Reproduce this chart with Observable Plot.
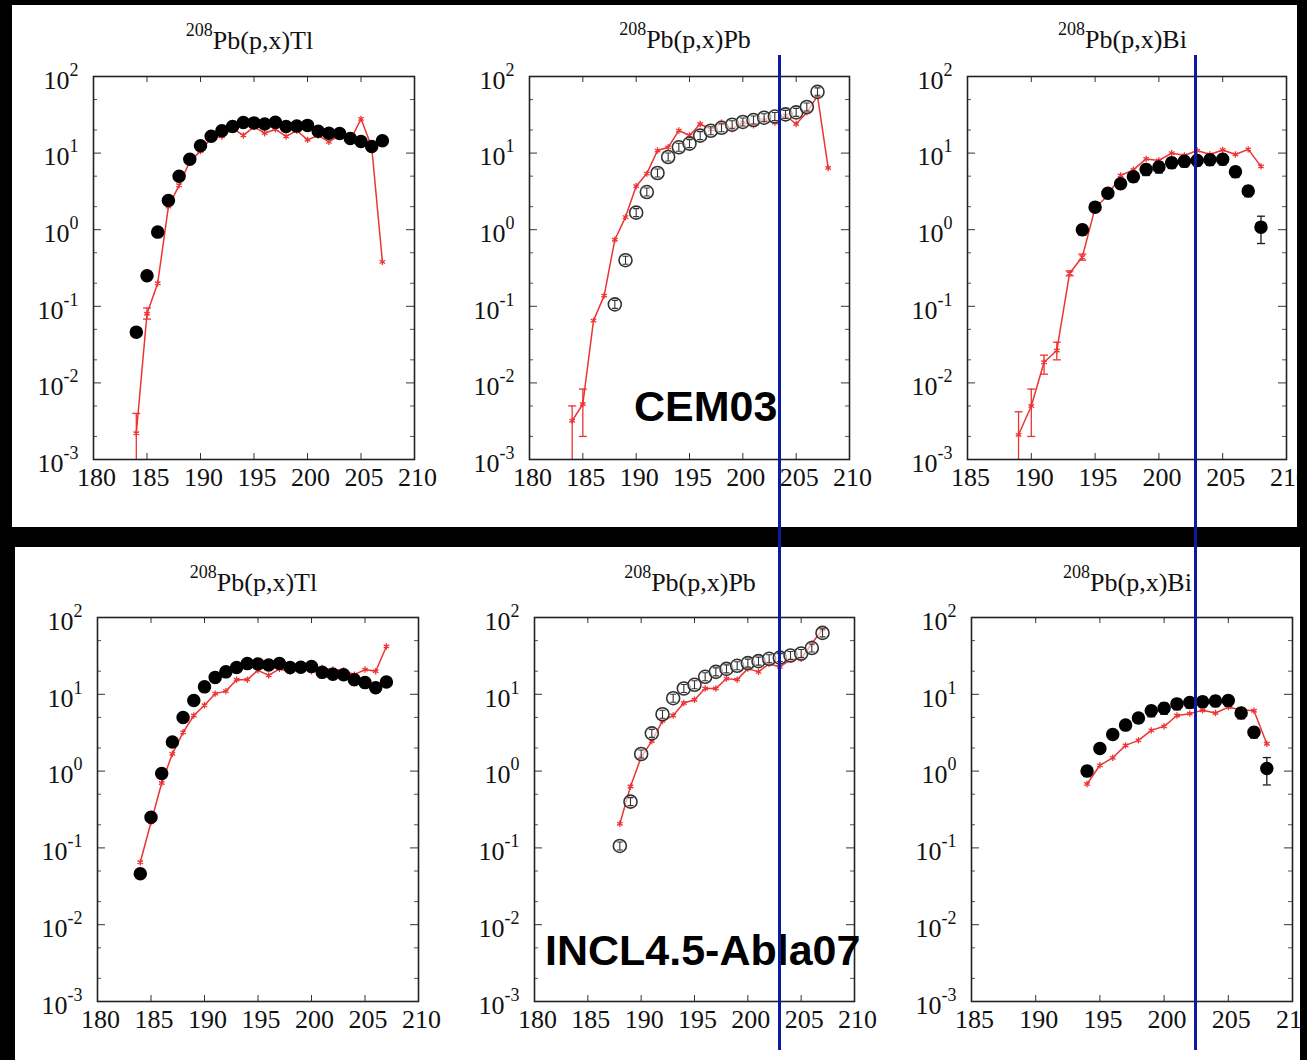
<!DOCTYPE html>
<html><head><meta charset="utf-8">
<script src="https://cdn.jsdelivr.net/npm/d3@7"></script>
<script src="https://cdn.jsdelivr.net/npm/@observablehq/plot@0.6"></script>
<style>
html,body{margin:0;padding:0;background:#000;}
body{width:1307px;height:1060px;overflow:hidden;}
#root{position:relative;width:1307px;height:1060px;background:#000;overflow:hidden;}
.region{position:absolute;background:#fff;overflow:hidden;}
.title{position:absolute;font-family:'Liberation Serif','Times New Roman',serif;font-size:26px;line-height:26px;text-align:center;color:#111;white-space:nowrap;}
.title sup{font-size:18px;position:relative;top:-13px;vertical-align:baseline;line-height:0;}
.model{position:absolute;font-family:'Liberation Sans',Arial,sans-serif;font-weight:bold;font-size:43px;line-height:43px;color:#000;white-space:nowrap;}
.vline{position:absolute;width:3px;background:#0b1ba4;}
#root svg text, #root svg tspan{font-family:'Liberation Serif','Times New Roman',serif !important;}
</style></head>
<body><div id="root"></div>
<script>
// ---------- data ----------
const Y_MAJOR = [1e-3, 1e-2, 1e-1, 1, 10, 100];
const Y_MINOR = [0.002, 0.005, 0.02, 0.05, 0.2, 0.5, 2, 5, 20, 50];
const X_TICKS_180 = [180, 185, 190, 195, 200, 205, 210];
const X_TICKS_185 = [185, 190, 195, 200, 205, 210];

// Tl
const A_TL = [184,185,186,187,188,189,190,191,192,193,194,195,196,197,198,199,200,201,202,203,204,205,206,207];
const TL_EXP = [0.046,0.25,0.93,2.4,5.0,8.3,12.5,16.6,19.6,22.3,25.1,24.8,24,25.2,22.3,22.5,23,19.3,18.2,18,15.5,14.2,12.2,14.5];
const TL_CEM = [0.0022,0.08,0.2,2.0,3.8,7.8,10.6,15.7,16.5,21,17,22,18.2,20.5,16.5,19.7,14.9,17,14,17,14.6,28,12,0.38];
const TL_INCL = [0.065,0.216,0.70,1.68,3.2,5.3,7.2,10.2,11,15.5,15.5,20.5,17.6,21.5,19.6,22.7,20,22,21,20.5,18,21,20,42];
const TL_CEM_ERR_A = [184, 185];
const TL_CEM_ERR_LO = [0.0005, 0.068];
const TL_CEM_ERR_HI = [0.004, 0.095];

// Pb
const A_PB_EXP = [188,189,190,191,192,193,194,195,196,197,198,199,200,201,202,203,204,205,206,207];
const PB_EXP = [0.106,0.40,1.67,3.1,5.5,8.9,11.9,13.3,16.9,19.6,21.4,23.5,25.5,27,29,30,32,34,40,63];
const A_PB_CEM = [184,185,186,187,188,189,190,191,192,193,194,195,196,197,198,199,200,201,202,203,204,205,206,207,208];
const PB_CEM = [0.0032,0.0053,0.065,0.138,0.74,1.46,3.7,5.4,10.8,11.9,19.7,17,24,20.5,25,20.5,25,23,27,25,31,24,34,56,6.4];
const PB_CEM_ERR_A = [184, 185];
const PB_CEM_ERR_LO = [0.0005, 0.002];
const PB_CEM_ERR_HI = [0.005, 0.0083];
const A_PB_INCL = [188,189,190,191,192,193,194,195,196,197,198,199,200,201,202,203,204,205,206,207];
const PB_INCL = [0.206,0.63,1.52,2.46,4.5,5.3,7.7,8.5,11.9,11.9,16,15.5,21.6,19.6,25,22.7,28.3,29,45.8,70];

// Bi
const A_BI_EXP = [194,195,196,197,198,199,200,201,202,203,204,205,206,207,208];
const BI_EXP = [1.0,1.97,3.0,3.97,4.9,6.1,6.6,7.5,7.8,8.0,8.2,8.3,5.7,3.2,1.08];
const BI_EXP_LO = [0.85,1.75,2.65,3.45,4.2,5.1,5.5,6.3,6.6,6.8,6.9,7.0,4.8,2.7,0.66];
const BI_EXP_HI = [1.15,2.2,3.35,4.5,5.6,7.1,7.7,8.7,9.0,9.3,9.5,9.6,6.6,3.7,1.5];
const A_BI_CEM = [189,190,191,192,193,194,195,196,197,198,199,200,201,202,203,204,205,206,207,208];
const BI_CEM = [0.0021,0.005,0.0186,0.0265,0.27,0.44,1.93,2.8,5.1,6.05,8.4,8,10,9.3,10.8,9.6,11,9.6,11.2,6.7];
const BI_CEM_ERR_A = [189, 190, 191, 192, 193, 194];
const BI_CEM_ERR_LO = [0.0005, 0.002, 0.013, 0.02, 0.25, 0.40];
const BI_CEM_ERR_HI = [0.0042, 0.0083, 0.023, 0.034, 0.29, 0.48];
const A_BI_INCL = [194,195,196,197,198,199,200,201,202,203,204,205,206,207,208];
const BI_INCL = [0.68,1.19,1.49,2.16,2.51,3.39,3.83,5.3,5.6,6.2,5.7,6.8,6.3,6.1,2.27];

const TITLES = ["Pb(p,x)Tl", "Pb(p,x)Pb", "Pb(p,x)Bi"];
const TARGET_MASS = "208";
const MODEL_NAMES = ["CEM03", "INCL4.5-Abla07"];

// ---------- drawing ----------
const SERIF = "'Liberation Serif','Times New Roman',serif";
const RED = "#ee3333";
const INK = "#1a1a1a";
const CAP = {draw(ctx) { ctx.moveTo(-4, 0); ctx.lineTo(4, 0); }};
const IBAR = {draw(ctx) { ctx.moveTo(0, -4); ctx.lineTo(0, 4); ctx.moveTo(-3, -4); ctx.lineTo(3, -4); ctx.moveTo(-3, 4); ctx.lineTo(3, 4); }};

const root = document.getElementById("root");
const regions = [
  {left: 12, top: 5, width: 1285, height: 522},
  {left: 15, top: 547, width: 1285, height: 513}
];
const regionEls = regions.map(r => {
  const d = document.createElement("div");
  d.className = "region";
  Object.assign(d.style, {left: r.left + "px", top: r.top + "px", width: r.width + "px", height: r.height + "px"});
  root.appendChild(d);
  return d;
});

const zip = (A, V) => A.map((a, i) => ({a, v: V[i]}));
const zipErr = (A, L, H) => A.map((a, i) => ({a, lo: L[i], hi: H[i]}));

function makePanel(c) {
  const ML = 75, MR = 20, MT = 15, MB = 45;
  const [fl, ft, fr, fb] = c.frame;
  const fw = fr - fl, fh = fb - ft;
  const model = zip(c.modelA, c.model);
  const exp = zip(c.expA, c.exp);
  const marks = [
    Plot.tickY(Y_MAJOR, {y: d => d, insetRight: fw - 8, stroke: "#333"}),
    Plot.tickY(Y_MAJOR, {y: d => d, insetLeft: fw - 8, stroke: "#333"}),
    Plot.tickY(Y_MINOR, {y: d => d, insetRight: fw - 4, stroke: "#555"}),
    Plot.tickY(Y_MINOR, {y: d => d, insetLeft: fw - 4, stroke: "#555"}),
    Plot.tickX(c.xTicks, {x: d => d, insetTop: fh - 6, stroke: "#333"}),
    Plot.tickX(c.xTicks, {x: d => d, insetBottom: fh - 6, stroke: "#333"})
  ];
  if (c.modelErr) {
    const e = zipErr(...c.modelErr);
    marks.push(
      Plot.ruleX(e, {x: "a", y1: "lo", y2: "hi", stroke: RED, strokeWidth: 1.3, clip: true}),
      Plot.dot(e, {x: "a", y: "lo", symbol: CAP, r: 3, stroke: RED, strokeWidth: 1.3, clip: true}),
      Plot.dot(e, {x: "a", y: "hi", symbol: CAP, r: 3, stroke: RED, strokeWidth: 1.3, clip: true})
    );
  }
  marks.push(
    Plot.line(model, {x: "a", y: "v", stroke: RED, strokeWidth: 1.5, clip: true}),
    Plot.dot(model, {x: "a", y: "v", symbol: "asterisk", r: 3, stroke: RED, strokeWidth: 1.3, clip: true})
  );
  if (c.expErr) {
    const e = zipErr(...c.expErr);
    marks.push(
      Plot.ruleX(e, {x: "a", y1: "lo", y2: "hi", stroke: INK, strokeWidth: 1.3}),
      Plot.dot(e, {x: "a", y: "lo", symbol: CAP, r: 3, stroke: INK, strokeWidth: 1.3}),
      Plot.dot(e, {x: "a", y: "hi", symbol: CAP, r: 3, stroke: INK, strokeWidth: 1.3})
    );
  }
  if (c.open) {
    marks.push(
      Plot.dot(exp, {x: "a", y: "v", r: 6.5, fill: "white", fillOpacity: 0.6, stroke: "#333", strokeWidth: 1.6}),
      Plot.dot(exp, {x: "a", y: "v", symbol: IBAR, r: 3, stroke: "#333", strokeWidth: 1.1})
    );
  } else {
    marks.push(Plot.dot(exp, {x: "a", y: "v", r: 6, fill: "#000", stroke: "#000"}));
  }
  marks.push(
    Plot.frame({stroke: "#222", strokeWidth: 1.6}),
    Plot.axisY({ticks: Y_MAJOR, label: null, tickSize: 0, tickPadding: 15, dy: 4, fontSize: 26, fontFamily: SERIF, fill: "#111",
      tickFormat: d => `10^${Math.round(Math.log10(d))}`}),
    Plot.axisX({ticks: c.xTicks, label: null, tickSize: 0, tickPadding: 8, dx: 3, fontSize: 26, fontFamily: SERIF, fill: "#111",
      tickFormat: d => String(d)})
  );
  const svg = Plot.plot({
    width: fw + ML + MR, height: fh + MT + MB,
    marginLeft: ML, marginRight: MR, marginTop: MT, marginBottom: MB,
    x: {domain: c.xDomain, label: null},
    y: {type: "log", domain: [1e-3, 1e2], label: null},
    style: {background: "transparent", fontFamily: SERIF, fontSize: "26px", color: "#111", overflow: "visible"},
    marks
  });
  svg.style.fontFamily = SERIF;
  svg.querySelectorAll("g, text").forEach(el => {
    el.setAttribute("font-family", SERIF);
    el.style.fontFamily = SERIF;
    el.style.fontVariant = "normal";
  });
  svg.querySelectorAll("text").forEach(t => {
    t.setAttribute("font-size", "26");
    const m = /^10\^(-?\d+)$/.exec(t.textContent);
    if (!m) return;
    t.textContent = "10";
    const ts = document.createElementNS("http://www.w3.org/2000/svg", "tspan");
    ts.setAttribute("font-size", "18");
    ts.setAttribute("dy", "-13");
    ts.textContent = m[1];
    t.appendChild(ts);
  });
  const reg = regions[c.row], regEl = regionEls[c.row];
  svg.style.position = "absolute";
  svg.style.left = (fl - ML - reg.left) + "px";
  svg.style.top = (ft - MT - reg.top) + "px";
  regEl.appendChild(svg);
  const t = document.createElement("div");
  t.className = "title";
  t.innerHTML = `<sup>${TARGET_MASS}</sup>${c.title}`;
  Object.assign(t.style, {left: (fl - 4 - 100 - reg.left) + "px", width: (fw + 200) + "px", top: (c.titleBase - 22 - reg.top) + "px"});
  regEl.appendChild(t);
}

const panels = [
  {row: 0, frame: [93, 76, 414, 459], titleBase: 50, title: TITLES[0], xDomain: [180, 210], xTicks: X_TICKS_180,
   expA: A_TL, exp: TL_EXP, modelA: A_TL, model: TL_CEM, modelErr: [TL_CEM_ERR_A, TL_CEM_ERR_LO, TL_CEM_ERR_HI]},
  {row: 0, frame: [529, 76, 849, 459], titleBase: 49, title: TITLES[1], xDomain: [180, 210], xTicks: X_TICKS_180, open: true,
   expA: A_PB_EXP, exp: PB_EXP, modelA: A_PB_CEM, model: PB_CEM, modelErr: [PB_CEM_ERR_A, PB_CEM_ERR_LO, PB_CEM_ERR_HI]},
  {row: 0, frame: [967, 76, 1286, 459], titleBase: 49, title: TITLES[2], xDomain: [185, 210], xTicks: X_TICKS_185,
   expA: A_BI_EXP, exp: BI_EXP, expErr: [A_BI_EXP, BI_EXP_LO, BI_EXP_HI], modelA: A_BI_CEM, model: BI_CEM, modelErr: [BI_CEM_ERR_A, BI_CEM_ERR_LO, BI_CEM_ERR_HI]},
  {row: 1, frame: [97, 617, 418, 1001], titleBase: 592, title: TITLES[0], xDomain: [180, 210], xTicks: X_TICKS_180,
   expA: A_TL, exp: TL_EXP, modelA: A_TL, model: TL_INCL},
  {row: 1, frame: [534, 617, 854, 1001], titleBase: 592, title: TITLES[1], xDomain: [180, 210], xTicks: X_TICKS_180, open: true,
   expA: A_PB_EXP, exp: PB_EXP, modelA: A_PB_INCL, model: PB_INCL},
  {row: 1, frame: [971, 617, 1292, 1001], titleBase: 592, title: TITLES[2], xDomain: [185, 210], xTicks: X_TICKS_185,
   expA: A_BI_EXP, exp: BI_EXP, expErr: [A_BI_EXP, BI_EXP_LO, BI_EXP_HI], modelA: A_BI_INCL, model: BI_INCL}
];
panels.forEach(makePanel);

[[MODEL_NAMES[0], 634, 385], [MODEL_NAMES[1], 545, 929]].forEach(([txt, x, y]) => {
  const d = document.createElement("div");
  d.className = "model";
  d.textContent = txt;
  Object.assign(d.style, {left: x + "px", top: y + "px"});
  root.appendChild(d);
});
[[777.5, 55, 995], [1193.5, 55, 995]].forEach(([x, y, h]) => {
  const d = document.createElement("div");
  d.className = "vline";
  Object.assign(d.style, {left: x + "px", top: y + "px", height: h + "px"});
  root.appendChild(d);
});
</script>
</body></html>
